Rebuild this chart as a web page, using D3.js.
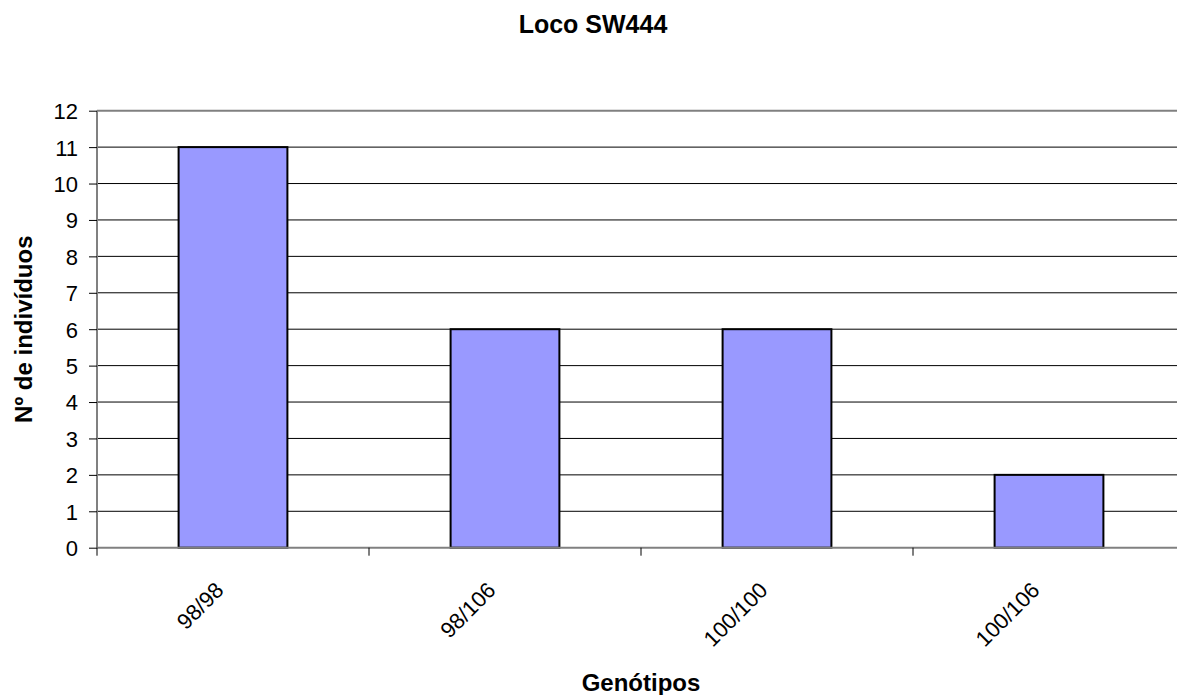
<!DOCTYPE html>
<html>
<head>
    <meta charset="utf-8">
    <title>Loco SW444</title>
    <script src="https://d3js.org/d3.v7.min.js"></script>
    <style>
        body { margin: 0; background: #fff; overflow: hidden; }
        text { font-family: "Liberation Sans", Arial, sans-serif; fill: #000; }
    </style>
</head>
<body>
<div id="chart"></div>
<script>
    // Data
    var genotypes = ["98/98", "98/106", "100/100", "100/106"];
    var counts = [11, 6, 6, 2];
    var yTicks = [0, 1, 2, 3, 4, 5, 6, 7, 8, 9, 10, 11, 12];

    var margin = {top: 110.7, left: 97},
        width = 1088,
        height = 437;

    var svg = d3.select("#chart")
      .append("svg")
        .attr("width", 1177)
        .attr("height", 695);

    var g = svg.append("g")
        .attr("transform", "translate(" + margin.left + "," + margin.top + ")");

    // Scales
    var x = d3.scaleBand()
        .domain(genotypes)
        .range([0, width])
        .paddingInner(0.6)
        .paddingOuter(0.3);
    var y = d3.scaleLinear()
        .domain([0, 12])
        .range([height, 0]);

    // Gridlines
    g.selectAll(".grid")
        .data(yTicks.filter(function(d) { return d > 0 && d < 12; }))
        .enter().append("line")
        .attr("x1", 0).attr("x2", width)
        .attr("y1", function(d) { return y(d); })
        .attr("y2", function(d) { return y(d); })
        .attr("stroke", "#000")
        .attr("stroke-width", 1);

    // Plot area top border
    g.append("line")
        .attr("x1", 0).attr("x2", width)
        .attr("y1", y(12)).attr("y2", y(12))
        .attr("stroke", "#808080")
        .attr("stroke-width", 2);

    // Bars
    g.selectAll(".bar")
        .data(counts)
        .enter().append("rect")
        .attr("x", function(d, i) { return x(genotypes[i]); })
        .attr("y", function(d) { return y(d); })
        .attr("width", x.bandwidth())
        .attr("height", function(d) { return y(0) - y(d); })
        .attr("fill", "#9999ff")
        .attr("stroke", "#000")
        .attr("stroke-width", 2);

    // Y axis
    var yAxis = g.append("g")
        .call(d3.axisLeft(y).tickValues(yTicks).tickSize(8).tickPadding(11));
    yAxis.select(".domain").attr("stroke", "#808080").attr("stroke-width", 2)
        .attr("d", "M0," + height + "V0");
    yAxis.selectAll(".tick line").attr("stroke", "#000");
    yAxis.selectAll(".tick text")
        .style("font-size", "22px")
        .attr("dy", "0.36em");

    // X axis line and boundary ticks
    g.append("line")
        .attr("x1", 0).attr("x2", width)
        .attr("y1", height).attr("y2", height)
        .attr("stroke", "#808080")
        .attr("stroke-width", 2);
    g.selectAll(".xtick")
        .data(d3.range(genotypes.length + 1))
        .enter().append("line")
        .attr("x1", function(i) { return i * x.step(); })
        .attr("x2", function(i) { return i * x.step(); })
        .attr("y1", height)
        .attr("y2", height + 8)
        .attr("stroke", "#000");

    // X labels
    g.selectAll(".xlabel")
        .data(genotypes)
        .enter().append("text")
        .attr("transform", function(d) {
            return "translate(" + (x(d) + x.bandwidth() / 2 - 8) + "," + (height + 44) + ") rotate(-45)";
        })
        .style("text-anchor", "end")
        .style("font-size", "22px")
        .text(function(d) { return d; });

    // Title
    svg.append("text")
        .attr("x", 593)
        .attr("y", 33)
        .style("text-anchor", "middle")
        .style("font-size", "25px")
        .style("font-weight", "bold")
        .text("Loco SW444");

    // Axis titles
    svg.append("text")
        .attr("x", margin.left + width / 2)
        .attr("y", 691)
        .style("text-anchor", "middle")
        .style("font-size", "24px")
        .style("font-weight", "bold")
        .text("Genótipos");

    svg.append("text")
        .attr("transform", "translate(32," + (margin.top + height / 2) + ") rotate(-90)")
        .style("text-anchor", "middle")
        .style("font-size", "24px")
        .style("font-weight", "bold")
        .text("Nº de indivíduos");
</script>
</body>
</html>
